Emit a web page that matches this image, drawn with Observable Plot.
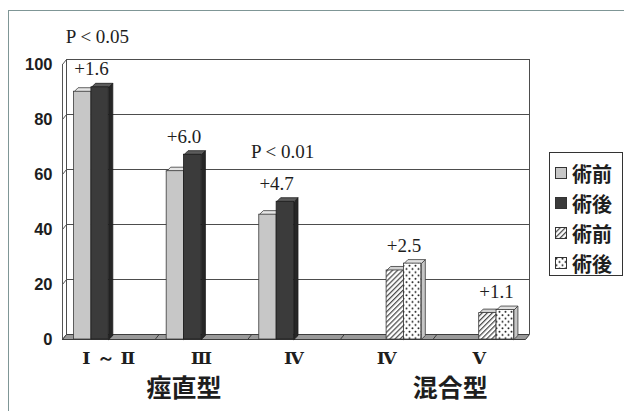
<!DOCTYPE html>
<html>
<head>
<meta charset="utf-8">
<script src="https://cdn.jsdelivr.net/npm/d3@7"></script>
<script src="https://cdn.jsdelivr.net/npm/@observablehq/plot@0.6"></script>
<style>
  html, body { margin: 0; padding: 0; background: #fff; }
  #wrap { position: relative; width: 624px; height: 411px; overflow: hidden; background: #fff; }
  #frame { position: absolute; left: 8px; top: 10px; width: 700px; height: 500px;
           border-top: 1.5px solid #7f9696; border-left: 1.5px solid #7f9696; }
  #chart { position: absolute; left: 0; top: 0; }
  #legend { position: absolute; left: 549px; top: 152px; width: 72px; height: 122px;
            border: 1px solid #333; background: #fff; }
  .item { position: absolute; left: 5px; height: 30px; display: flex; align-items: center;
          font-family: "Noto Sans CJK JP", sans-serif; font-size: 20px; font-weight: 700; color: #1e1e1e; }
  .item svg { margin-right: 5px; }
</style>
</head>
<body>
<svg width="0" height="0" style="position:absolute">
  <defs>
    <pattern id="hatch" patternUnits="userSpaceOnUse" width="3.6" height="3.6" patternTransform="rotate(45)">
      <rect width="3.6" height="3.6" fill="#fff"/>
      <line x1="0.6" y1="0" x2="0.6" y2="3.6" stroke="#4a4a4a" stroke-width="1.3"/>
    </pattern>
    <pattern id="hatchSide" patternUnits="userSpaceOnUse" width="3.6" height="3.6" patternTransform="rotate(45)">
      <rect width="3.6" height="3.6" fill="#bdbdbd"/>
      <line x1="0.6" y1="0" x2="0.6" y2="3.6" stroke="#444" stroke-width="1.3"/>
    </pattern>
    <pattern id="dots" patternUnits="userSpaceOnUse" width="6" height="6.6">
      <rect width="6" height="6.6" fill="#fff"/>
      <circle cx="1.5" cy="1.6" r="1" fill="#222"/>
      <circle cx="4.5" cy="4.9" r="1" fill="#222"/>
    </pattern>
  </defs>
</svg>
<div id="wrap">
  <div id="frame"></div>
  <div id="chart"></div>
  <div id="legend"></div>
</div>
<script>
// Categories (x axis) and the diagnosis group each one belongs to
const categories = ["Ⅰ ～ Ⅱ", "Ⅲ", "Ⅳ", "Ⅳ", "Ⅴ"];
const groupOf    = ["痙直型", "痙直型", "痙直型", "混合型", "混合型"];
const groups     = ["痙直型", "混合型"];

// Scores before surgery and the post-surgery gain per category
const before = [90.1, 61.2, 45.4, 25.1, 9.6];
const change = [1.6, 6.0, 4.7, 2.5, 1.1];

// Significance notes and the category they sit above
const pLabelText     = ["P < 0.05", "P < 0.01"];
const pLabelCategory = [0, 2];

// Series (legend) names: solid pair for 痙直型, patterned pair for 混合型
const seriesNames = ["術前", "術後", "術前", "術後"];
const yTicks = [0, 20, 40, 60, 80, 100];

// ---- layout ----
const W = 624, H = 411;
const mL = 62, mR = 99, mT = 64, mB = 72;
const pxX = (W - mL - mR) / categories.length;
const pxY = (H - mT - mB) / 100;
const wallDepth = {dx: 4, dy: 5};
const barDepth = {dx: 4, dy: 4};
const wx = wallDepth.dx / pxX, wy = wallDepth.dy / pxY;
const bx = barDepth.dx / pxX, by = barDepth.dy / pxY;
const slotW = 0.1875, slotPad = 0.125;

const seriesStyle = [
  {front: "#c7c7c7", top: "#e6e6e6", side: "#9d9d9d", stroke: "#3a3a3a"},
  {front: "#3b3b3b", top: "#5c5c5c", side: "#262626", stroke: "#1c1c1c"},
  {front: "url(#hatch)", top: "#d2d2d2", side: "url(#hatchSide)", stroke: "#3a3a3a"},
  {front: "url(#dots)", top: "#e0e0e0", side: "#c6c6c6", stroke: "#3a3a3a"}
];

// Bars: one per (category, before/after); each series keeps its own slot
const bars = [];
categories.forEach((c, i) => {
  const g = groups.indexOf(groupOf[i]);
  const vals = [before[i], +(before[i] + change[i]).toFixed(1)];
  vals.forEach((v, k) => {
    const slot = g * 2 + k;
    const x1 = i + slotPad + slot * slotW;
    bars.push({id: `${i}-${k}`, cat: i, slot, x1, x2: x1 + slotW, value: v});
  });
});

// Faces of each 3-D bar as closed outlines in data space
const topFaces = [], sideFaces = [];
for (const b of bars) {
  [[b.x1, b.value], [b.x2, b.value], [b.x2 + bx, b.value + by], [b.x1 + bx, b.value + by], [b.x1, b.value]]
    .forEach(([x, y]) => topFaces.push({id: b.id, slot: b.slot, x, y}));
  [[b.x2, 0], [b.x2 + bx, by], [b.x2 + bx, b.value + by], [b.x2, b.value], [b.x2, 0]]
    .forEach(([x, y]) => sideFaces.push({id: b.id, slot: b.slot, x, y}));
}

const n = categories.length;
const floor = [[0, 0], [n, 0], [n + wx, wy], [wx, wy], [0, 0]].map(([x, y]) => ({x, y}));

// Label positions
const pairCenter = i => i + slotPad + (groups.indexOf(groupOf[i]) * 2 + 1) * slotW;
const catLabels = categories.map((c, i) => ({text: c, x: i + 0.5}));
const groupLabels = groups.map(g => {
  const idx = categories.map((c, i) => i).filter(i => groupOf[i] === g);
  return {text: g, x: d3.mean(idx, pairCenter)};
});
const changeLabels = categories.map((c, i) => ({
  text: "+" + change[i].toFixed(1), x: pairCenter(i), y: before[i] + change[i]
}));
const pLabels = pLabelText.map((t, j) => {
  const i = pLabelCategory[j];
  return {text: t, x: pairCenter(i), y: before[i] + change[i]};
});

const serif = "'Liberation Serif', 'Times New Roman', serif";
const ink = "#1e1e1e";

const marks = [
  // back wall grid
  Plot.ruleY(yTicks, {x1: () => 0, x2: () => n, y: d => d, dx: wallDepth.dx, dy: -wallDepth.dy, stroke: "#4d4d4d", strokeWidth: 1}),
  Plot.ruleX([0, n], {x: d => d, y1: () => 0, y2: () => 100, dx: wallDepth.dx, dy: -wallDepth.dy, stroke: "#4d4d4d", strokeWidth: 1}),
  // side wall: front edge and tick connectors
  Plot.ruleX([0], {x: d => d, y1: () => 0, y2: () => 100, stroke: "#555", strokeWidth: 1}),
  Plot.link(yTicks, {x1: () => 0, y1: d => d, x2: () => wx, y2: d => d + wy, stroke: "#555", strokeWidth: 1}),
  // floor
  Plot.line(floor, {x: "x", y: "y", fill: "#9a9a9a", stroke: "#3d3d3d", strokeWidth: 1}),
  Plot.link(d3.range(1, n), {x1: d => d, y1: () => 0, x2: d => d + wx, y2: () => wy, stroke: "#3d3d3d", strokeWidth: 1})
];

// Bars, drawn left to right within each category
seriesStyle.forEach((s, slot) => {
  const bs = bars.filter(b => b.slot === slot);
  if (!bs.length) return;
  marks.push(
    Plot.line(sideFaces.filter(d => d.slot === slot), {x: "x", y: "y", z: "id", fill: s.side, stroke: s.stroke, strokeWidth: 0.8}),
    Plot.line(topFaces.filter(d => d.slot === slot), {x: "x", y: "y", z: "id", fill: s.top, stroke: s.stroke, strokeWidth: 0.8}),
    Plot.rect(bs, {x1: "x1", x2: "x2", y1: () => 0, y2: "value", fill: s.front, stroke: s.stroke, strokeWidth: 0.8})
  );
});

marks.push(
  Plot.text(yTicks, {x: () => 0, y: d => d, text: d => String(d), dx: -10, textAnchor: "end",
    fontFamily: "'Liberation Sans', Arial, sans-serif", fontWeight: "bold", fontSize: 16.5, fill: ink}),
  Plot.text(catLabels, {x: "x", y: () => 0, dy: 19, text: "text",
    fontFamily: "'DejaVu Serif', 'Liberation Serif', serif", fontWeight: "bold", fontSize: 17.5, fill: ink}),
  Plot.text(groupLabels, {x: "x", y: () => 0, dy: 49, text: "text",
    fontFamily: "'Noto Sans CJK JP', sans-serif", fontWeight: 700, fontSize: 25, fill: ink}),
  Plot.text(changeLabels, {x: "x", y: "y", dy: -18, text: "text", fontFamily: serif, fontSize: 19, fill: ink}),
  Plot.text(pLabels, {x: "x", y: "y", dy: -50, dx: 6, text: "text", fontFamily: serif, fontSize: 19, fill: ink})
);

const chart = Plot.plot({
  width: W, height: H,
  marginLeft: mL, marginRight: mR, marginTop: mT, marginBottom: mB,
  x: {domain: [0, n], axis: null},
  y: {domain: [0, 100], axis: null},
  style: {background: "transparent", overflow: "visible"},
  marks
});
document.getElementById("chart").appendChild(chart);

// Legend
const legend = document.getElementById("legend");
seriesNames.forEach((name, s) => {
  const st = seriesStyle[s];
  const row = document.createElement("div");
  row.className = "item";
  row.style.top = (5 + s * 30) + "px";
  row.innerHTML = `<svg width="12" height="12"><rect x="0.5" y="0.5" width="11" height="11" fill="${st.front}" stroke="#333" stroke-width="1"/></svg><span>${name}</span>`;
  legend.appendChild(row);
});
</script>
</body>
</html>
